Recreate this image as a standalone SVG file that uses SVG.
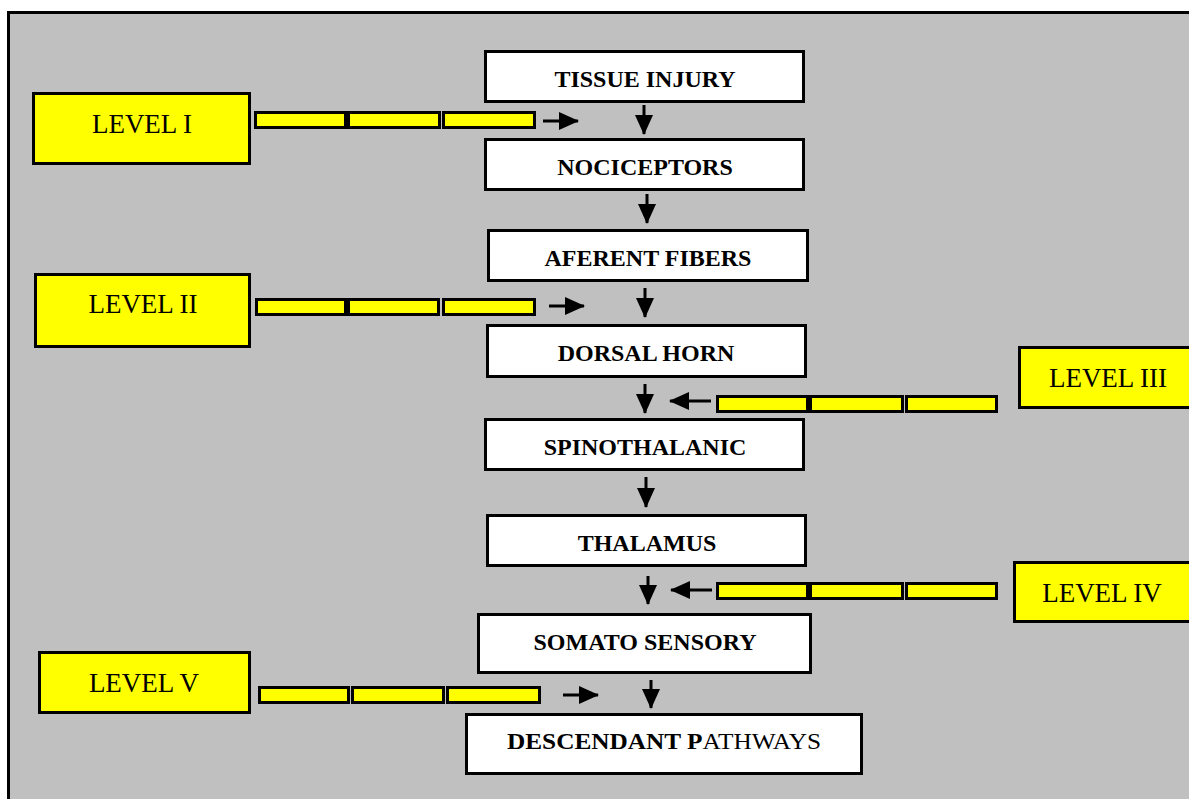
<svg xmlns="http://www.w3.org/2000/svg" width="1189" height="799" viewBox="0 0 1189 799">
<defs>
<style>
.frame{fill:#C0C0C0;stroke:#000;stroke-width:3}
.box{fill:#fff;stroke:#000;stroke-width:3}
.lvl{fill:#FFFF00;stroke:#000;stroke-width:3}
.bar{fill:#FFFF00;stroke:#000;stroke-width:3}
.t{font-family:"Liberation Serif","Times New Roman",serif;font-weight:bold;font-size:24px;fill:#000;text-anchor:middle}
.tl{font-family:"Liberation Serif","Times New Roman",serif;font-size:27px;fill:#000;text-anchor:middle}
.arr{stroke:#000;stroke-width:3;fill:none;marker-end:url(#ah)}
</style>
<marker id="ah" markerUnits="userSpaceOnUse" markerWidth="20" markerHeight="18" refX="19" refY="9" orient="auto">
<path d="M0,0 L20,9 L0,18 z" fill="#000"/>
</marker>
</defs>
<rect class="frame" x="8.5" y="12.5" width="1200" height="800"/>
<g id="connectors">
<rect class="bar" x="255.5" y="112.5" width="90" height="15"/>
<rect class="bar" x="348.5" y="112.5" width="91" height="15"/>
<rect class="bar" x="443.5" y="112.5" width="91" height="15"/>
<line class="arr" x1="543" y1="121" x2="578" y2="121"/>
<rect class="bar" x="256.5" y="299.5" width="89" height="15"/>
<rect class="bar" x="348.5" y="299.5" width="90" height="15"/>
<rect class="bar" x="443.5" y="299.5" width="91" height="15"/>
<line class="arr" x1="549" y1="306" x2="584" y2="306"/>
<rect class="bar" x="717.5" y="396.5" width="90" height="15"/>
<rect class="bar" x="810.5" y="396.5" width="92" height="15"/>
<rect class="bar" x="906.5" y="396.5" width="90" height="15"/>
<line class="arr" x1="711" y1="401" x2="670" y2="401"/>
<rect class="bar" x="717.5" y="583.5" width="90" height="15"/>
<rect class="bar" x="810.5" y="583.5" width="92" height="15"/>
<rect class="bar" x="906.5" y="583.5" width="90" height="15"/>
<line class="arr" x1="712" y1="590" x2="671" y2="590"/>
<rect class="bar" x="259.5" y="687.5" width="89" height="15"/>
<rect class="bar" x="352.5" y="687.5" width="91" height="15"/>
<rect class="bar" x="447.5" y="687.5" width="92" height="15"/>
<line class="arr" x1="563" y1="695" x2="598" y2="695"/>
<line class="arr" x1="644" y1="105" x2="644" y2="134"/>
<line class="arr" x1="647" y1="194" x2="647" y2="223"/>
<line class="arr" x1="645" y1="288" x2="645" y2="317"/>
<line class="arr" x1="645" y1="384" x2="645" y2="413"/>
<line class="arr" x1="646" y1="477" x2="646" y2="507"/>
<line class="arr" x1="648" y1="576" x2="648" y2="604"/>
<line class="arr" x1="651" y1="680" x2="651" y2="708"/>
</g>
<g id="n-tissue"><rect class="box" x="485.5" y="51.5" width="318" height="50"/><text class="t" x="645" y="87">TISSUE INJURY</text></g>
<g id="n-noci"><rect class="box" x="485.5" y="139.5" width="318" height="50"/><text class="t" x="645" y="175">NOCICEPTORS</text></g>
<g id="n-afer"><rect class="box" x="488.5" y="230.5" width="319" height="50"/><text class="t" x="648" y="266">AFERENT FIBERS</text></g>
<g id="n-dorsal"><rect class="box" x="487.5" y="325.5" width="318" height="51"/><text class="t" x="646" y="361">DORSAL HORN</text></g>
<g id="n-spino"><rect class="box" x="485.5" y="419.5" width="318" height="50"/><text class="t" x="645" y="455">SPINOTHALANIC</text></g>
<g id="n-thal"><rect class="box" x="487.5" y="515.5" width="318" height="50"/><text class="t" x="647" y="551">THALAMUS</text></g>
<g id="n-soma"><rect class="box" x="478.5" y="614.5" width="332" height="58"/><text class="t" x="645" y="650">SOMATO SENSORY</text></g>
<g id="n-desc"><rect class="box" x="466.5" y="714.5" width="395" height="59"/><text class="t" x="664" y="749" textLength="314" lengthAdjust="spacingAndGlyphs">DESCENDANT P<tspan font-weight="normal">ATHWAYS</tspan></text></g>
<g id="n-l1"><rect class="lvl" x="33.5" y="93.5" width="216" height="70"/><text class="tl" x="142" y="133">LEVEL I</text></g>
<g id="n-l2"><rect class="lvl" x="35.5" y="274.5" width="214" height="72"/><text class="tl" x="143" y="313">LEVEL II</text></g>
<g id="n-l3"><rect class="lvl" x="1019.5" y="347.5" width="180" height="60"/><text class="tl" x="1108" y="387">LEVEL III</text></g>
<g id="n-l4"><rect class="lvl" x="1014.5" y="562.5" width="185" height="59"/><text class="tl" x="1102" y="602">LEVEL IV</text></g>
<g id="n-l5"><rect class="lvl" x="39.5" y="652.5" width="210" height="60"/><text class="tl" x="144" y="692">LEVEL V</text></g>
</svg>
